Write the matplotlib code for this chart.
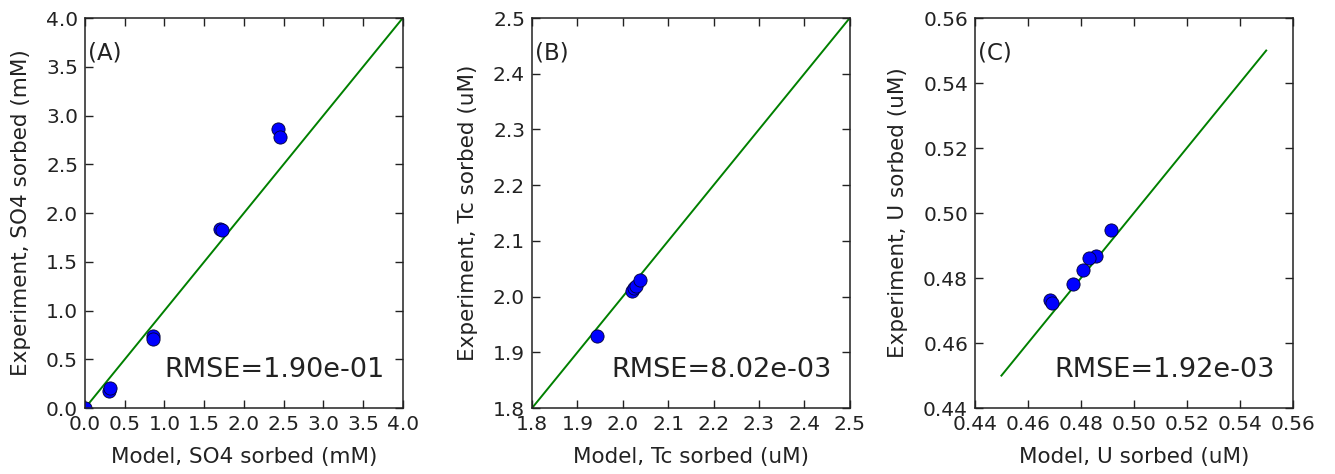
import matplotlib
matplotlib.use('Agg')
import matplotlib.pyplot as plt

# Sorbed amounts: model vs experiment
model_so4 = [0.0, 0.30, 0.31, 0.85, 0.86, 1.70, 1.72, 2.43, 2.45]
exp_so4 = [0.0, 0.18, 0.21, 0.74, 0.71, 1.84, 1.83, 2.86, 2.78]

model_tc = [1.944, 2.020, 2.025, 2.030, 2.039]
exp_tc = [1.930, 2.011, 2.015, 2.020, 2.029]

model_u = [0.4915, 0.4857, 0.4832, 0.4809, 0.4772, 0.4684, 0.4690]
exp_u = [0.4948, 0.4869, 0.4862, 0.4825, 0.4783, 0.4732, 0.4722]

rmse_labels = ['RMSE=1.90e-01', 'RMSE=8.02e-03', 'RMSE=1.92e-03']
panel_labels = ['(A)', '(B)', '(C)']
xlabels = ['Model, SO4 sorbed (mM)', 'Model, Tc sorbed (uM)', 'Model, U sorbed (uM)']
ylabels = ['Experiment, SO4 sorbed (mM)', 'Experiment, Tc sorbed (uM)', 'Experiment, U sorbed (uM)']
limits = [(0.0, 4.0), (1.8, 2.5), (0.44, 0.56)]
one_to_one = [(0.0, 4.0), (1.8, 2.5), (0.45, 0.55)]
ticks = [
    [0.0, 0.5, 1.0, 1.5, 2.0, 2.5, 3.0, 3.5, 4.0],
    [1.8, 1.9, 2.0, 2.1, 2.2, 2.3, 2.4, 2.5],
    [0.44, 0.46, 0.48, 0.50, 0.52, 0.54, 0.56],
]
fmts = ['%.1f', '%.1f', '%.2f']

fig = plt.figure(figsize=(13.35, 4.74), dpi=100)
lefts = [0.0637, 0.3985, 0.7303]
data = [(model_so4, exp_so4), (model_tc, exp_tc), (model_u, exp_u)]

for i in range(3):
    ax = fig.add_axes([lefts[i], 0.139, 0.238, 0.823])
    lo, hi = one_to_one[i]
    ax.plot([lo, hi], [lo, hi], color='g', linewidth=1.4, zorder=1)
    x, y = data[i]
    ax.plot(x, y, 'o', color='b', markeredgecolor='#000033',
            markeredgewidth=0.6, markersize=9.5, zorder=2)
    ax.set_xlim(*limits[i])
    ax.set_ylim(*limits[i])
    ax.set_xticks(ticks[i])
    ax.set_yticks(ticks[i])
    ax.set_xticklabels([fmts[i] % t for t in ticks[i]])
    ax.set_yticklabels([fmts[i] % t for t in ticks[i]])
    ax.tick_params(direction='in', top=True, right=True, length=6,
                   width=1, labelsize=14.5, pad=5, colors='#222222')
    for s in ax.spines.values():
        s.set_linewidth(1.1)
        s.set_color('#222222')
    ax.set_xlabel(xlabels[i], fontsize=15.5, color='#222222', labelpad=9)
    ax.set_ylabel(ylabels[i], fontsize=15.5, color='#222222', labelpad=11)
    ax.text(0.01, 0.91, panel_labels[i], transform=ax.transAxes,
            fontsize=16.5, va='center', ha='left', color='#222222')
    ax.text(0.25, 0.065, rmse_labels[i], transform=ax.transAxes,
            fontsize=19.5, va='bottom', ha='left', color='#222222')

fig.savefig('out.png', dpi=100, facecolor='white')
